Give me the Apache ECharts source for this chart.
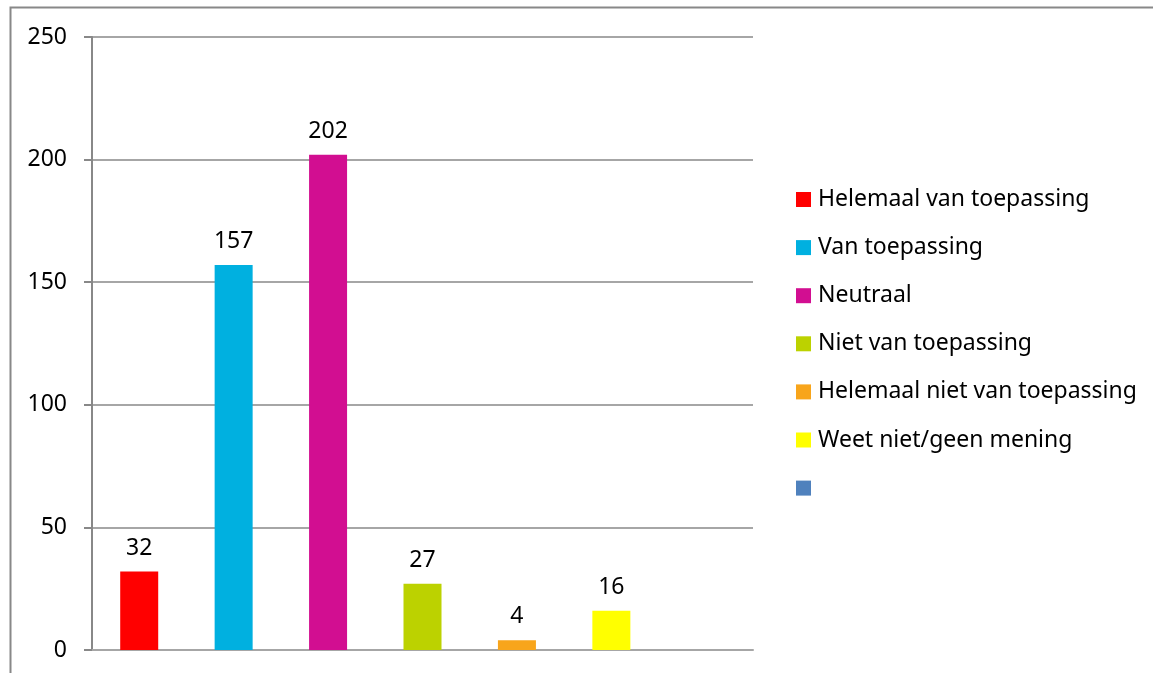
<html>
<head>
<meta charset="UTF-8">
<script src="https://cdn.jsdelivr.net/npm/echarts@6/dist/echarts.min.js"></script>
</head>
<body style="margin:0">
<div id="chart" style="width:1153px;height:673px;"></div>
<script>
    var categories = ['Helemaal van toepassing', 'Van toepassing', 'Neutraal', 'Niet van toepassing',
        'Helemaal niet van toepassing', 'Weet niet/geen mening', ' '];
    var values = [32, 157, 202, 27, 4, 16, null];
    var colors = ['#FF0000', '#00B0E0', '#D20E91', '#BCD200', '#F8A51B', '#FFFF00', '#4F81BD'];
    var yTicks = [0, 50, 100, 150, 200, 250];

    var chart = echarts.init(document.getElementById('chart'));

    // one series per category so each gets its own legend entry
    var series = [];
    for (var i = 0; i < categories.length; i++) {
        var d = [];
        for (var j = 0; j < categories.length; j++) {
            d.push(j === i && values[i] != null ? values[i] : '-');
        }
        series.push({
            name: categories[i],
            type: 'bar',
            stack: 'all',
            barWidth: 38,
            itemStyle: {color: colors[i]},
            label: {
                show: true,
                position: 'top',
                distance: 12,
                color: '#000',
                fontSize: 23,
                fontFamily: 'Noto Sans'
            },
            data: d
        });
    }

    chart.setOption({
        animation: false,
        textStyle: {fontFamily: 'Noto Sans'},
        graphic: [{
            type: 'rect',
            shape: {x: 10.5, y: 7.5, width: 1200, height: 700},
            style: {fill: 'none', stroke: '#888', lineWidth: 2}
        }],
        grid: {left: 92, right: 400, top: 37, bottom: 23},
        legend: {
            orient: 'vertical',
            left: 796,
            top: 188,
            padding: 0,
            icon: 'rect',
            itemWidth: 15,
            itemHeight: 15,
            itemGap: 25.1,
            data: categories,
            textStyle: {fontSize: 23, color: '#000', padding: [0, 0, 0, 2]}
        },
        xAxis: {
            type: 'category',
            data: categories,
            axisLine: {lineStyle: {color: '#A6A6A6', width: 2}},
            axisTick: {show: false},
            axisLabel: {show: false}
        },
        yAxis: {
            type: 'value',
            min: yTicks[0],
            max: yTicks[yTicks.length - 1],
            interval: 50,
            axisLine: {show: true, lineStyle: {color: '#888', width: 2}},
            axisTick: {show: true, length: 8, lineStyle: {color: '#888', width: 2}},
            axisLabel: {color: '#000', fontSize: 23, margin: 25},
            splitLine: {lineStyle: {color: '#888', width: 1.5}}
        },
        series: series
    });
</script>
</body>
</html>
